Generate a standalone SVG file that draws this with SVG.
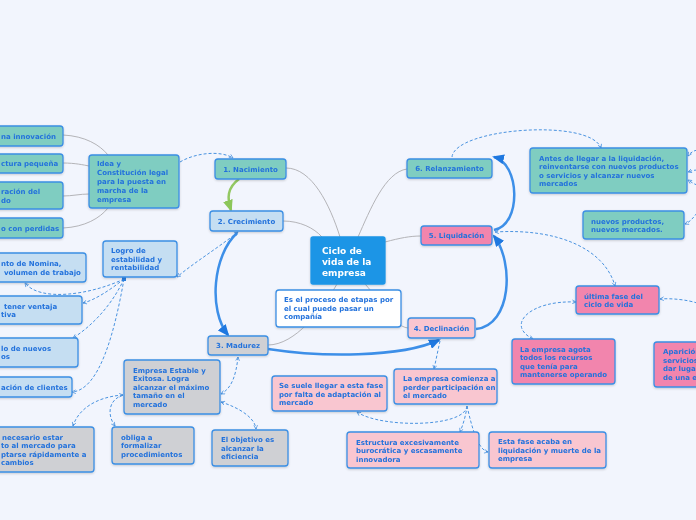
<svg xmlns="http://www.w3.org/2000/svg" width="696" height="520" viewBox="0 0 696 520">
<defs>
<style>
.bg{fill:#f2f5fd}
.n rect{stroke:#3b8ee4;stroke-width:1.3}
.teal{fill:#7fcdc1}
.lb{fill:#c5def2}
.gr{fill:#cfd0d4}
.pk{fill:#f9c6d0}
.dp{fill:#f285ad}
.wh{fill:#ffffff}
.ctr{fill:#1b95e6}
text{font-family:"DejaVu Sans","Liberation Sans",sans-serif;font-weight:bold;font-size:7px;fill:#2372dc}
.c{text-anchor:middle}
.big{font-size:9px;fill:#ffffff}
.g{fill:none;stroke:#b4b4b8;stroke-width:1}
.d{fill:none;stroke:#4a93e0;stroke-width:1;stroke-dasharray:3 2;marker-end:url(#oa)}
.d2{marker-start:url(#oa2)}
.s{fill:none;stroke:#3d8fe8;stroke-width:2.5;marker-end:url(#ta)}
.gs{fill:none;stroke:#93c862;stroke-width:2.5;marker-end:url(#tg)}
</style>
<filter id="sh" x="-10%" y="-10%" width="120%" height="130%"><feDropShadow dx="0" dy="1" stdDeviation="0.8" flood-color="#000" flood-opacity="0.18"/></filter>
<marker id="oa" viewBox="0 0 8 8" refX="7" refY="4" markerWidth="5" markerHeight="5" orient="auto" markerUnits="userSpaceOnUse"><path d="M1,1 L7,4 L1,7" fill="none" stroke="#4a93e0" stroke-width="1.2"/></marker>
<marker id="oa2" viewBox="0 0 8 8" refX="1" refY="4" markerWidth="5" markerHeight="5" orient="auto" markerUnits="userSpaceOnUse"><path d="M7,1 L1,4 L7,7" fill="none" stroke="#4a93e0" stroke-width="1.2"/></marker>
<marker id="ta" viewBox="0 0 12 10" refX="10" refY="5" markerWidth="12" markerHeight="10" orient="auto" markerUnits="userSpaceOnUse"><path d="M0,0 L12,5 L0,10 Z" fill="#1f78e0"/></marker>
<marker id="tg" viewBox="0 0 12 10" refX="10" refY="5" markerWidth="12" markerHeight="10" orient="auto" markerUnits="userSpaceOnUse"><path d="M0,0 L12,5 L0,10 Z" fill="#8cc65a"/></marker>
</defs>
<rect class="bg" x="0" y="0" width="696" height="520"/>

<g id="connectors">
<path class="g" d="M286,168 C312,168 330,205 340,237"/>
<path class="g" d="M283,221 C300,221 314,228 322,237"/>
<path class="g" d="M268,345 C295,345 322,310 337,284"/>
<path class="g" d="M365,284 C380,300 392,326 408,328"/>
<path class="g" d="M358,237 C370,210 385,172 407,169"/>
<path class="g" d="M385,242 C400,238 410,236 421,236"/>
<path class="g" d="M63,135 C85,136 100,145 108,155"/>
<path class="g" d="M63,163 C75,163 84,165 89,166"/>
<path class="g" d="M63,196 C72,196 80,194 89,194"/>
<path class="g" d="M63,228 C85,227 100,218 108,208"/>

<path class="d" d="M180,162 C195,153 220,150 233,158"/>
<path class="d d2" d="M238,232 C215,250 195,262 177,277"/>
<path class="d" d="M124,279 C90,295 40,302 25,283"/>
<path class="d" d="M124,279 C110,290 95,300 83,303"/>
<path class="d" d="M124,279 C112,305 92,326 73,338"/>
<path class="d" d="M124,279 C115,330 100,390 72,392"/>
<rect x="122" y="277" width="4" height="4" fill="#2b7fe0"/>
<path class="d d2" d="M238,357 C236,375 232,388 221,394"/>
<path class="d d2" d="M123,395 C95,397 78,410 73,426"/>
<path class="d" d="M123,395 C108,400 107,415 115,426"/>
<path class="d d2" d="M221,402 C240,408 255,418 256,429"/>
<path class="d" d="M440,341 C438,350 436,360 434,369"/>
<path class="d" d="M467,406 C465,428 380,428 357,412"/>
<path class="d" d="M467,406 C466,415 463,425 460,432"/>
<path class="d" d="M467,406 C472,428 478,450 488,452"/>
<path class="d d2" d="M495,232 C560,228 605,250 615,286"/>
<path class="d d2" d="M576,302 C530,300 505,325 533,339"/>
<path class="d" d="M697,303 C688,300 672,298 660,299"/>
<path class="d" d="M452,157 C455,128 590,118 601,148"/>
<path class="d" d="M697,150 C693,151 690,153 688,156"/>
<path class="d" d="M697,170 C694,170 691,171 688,172"/>
<path class="d" d="M697,185 C694,184 691,182 688,180"/>
<path class="d" d="M697,213 C693,218 690,222 685,224"/>

<path class="gs" d="M239,179 C227,188 227,198 231,210"/>
<path class="s" d="M237,233 C213,255 208,310 228,335"/>
<path class="s" d="M268,349 C320,357 400,358 439,340"/>
<path class="s" d="M476,329 C512,325 514,262 494,236"/>
<path class="s" d="M494,230 C522,225 520,163 494,157"/>
</g>

<g id="central" class="n" filter="url(#sh)"><rect class="ctr" x="311" y="237" width="74" height="47" rx="2" style="stroke:#1b95e6"/>
<text class="big" x="322" y="253.5">Ciclo de</text><text class="big" x="322" y="264.5">vida  de la</text><text class="big" x="322" y="275.5">empresa</text></g>

<g id="desc" class="n" filter="url(#sh)"><rect class="wh" x="276" y="290" width="125" height="37" rx="3"/>
<text x="284" y="302">Es el proceso de etapas por</text><text x="284" y="310.5">el cual puede pasar un</text><text x="284" y="319">compañía</text></g>

<g id="s1" class="n" filter="url(#sh)"><rect class="teal" x="215" y="159" width="71" height="20" rx="3"/><text class="c" x="250.5" y="171.5">1. Nacimiento</text></g>
<g id="s2" class="n" filter="url(#sh)"><rect class="lb" x="210" y="211" width="73" height="20" rx="3"/><text class="c" x="246.5" y="223.5">2. Crecimiento</text></g>
<g id="s3" class="n" filter="url(#sh)"><rect class="gr" x="208" y="336" width="60" height="19" rx="3"/><text class="c" x="238" y="348">3. Madurez</text></g>
<g id="s4" class="n" filter="url(#sh)"><rect class="pk" x="408" y="318" width="67" height="20" rx="3"/><text class="c" x="441.5" y="330.5">4. Declinación</text></g>
<g id="s5" class="n" filter="url(#sh)"><rect class="dp" x="421" y="226" width="71" height="19" rx="3"/><text class="c" x="456.5" y="238">5. Liquidación</text></g>
<g id="s6" class="n" filter="url(#sh)"><rect class="teal" x="407" y="159" width="85" height="19" rx="3"/><text class="c" x="449.5" y="171">6. Relanzamiento</text></g>

<g id="idea" class="n" filter="url(#sh)"><rect class="teal" x="89" y="155" width="90" height="53" rx="3"/>
<text x="97" y="166">Idea y</text><text x="97" y="175">Constitución legal</text><text x="97" y="184">para la puesta en</text><text x="97" y="193">marcha de la</text><text x="97" y="202">empresa</text></g>
<g id="i1" class="n" filter="url(#sh)"><rect class="teal" x="-40" y="126" width="103" height="20" rx="3"/><text x="1" y="138.5">na innovación</text></g>
<g id="i2" class="n" filter="url(#sh)"><rect class="teal" x="-40" y="154" width="103" height="19" rx="3"/><text x="1" y="166">ctura pequeña</text></g>
<g id="i3" class="n" filter="url(#sh)"><rect class="teal" x="-40" y="182" width="103" height="27" rx="3"/><text x="1" y="194">ración del</text><text x="1" y="203">do</text></g>
<g id="i4" class="n" filter="url(#sh)"><rect class="teal" x="-40" y="218" width="103" height="20" rx="3"/><text x="1" y="231">o con perdidas</text></g>

<g id="logro" class="n" filter="url(#sh)"><rect class="lb" x="103" y="241" width="74" height="36" rx="3"/>
<text x="111" y="253">Logro de</text><text x="111" y="261.5">estabilidad y</text><text x="111" y="270">rentabilidad</text></g>
<g id="l1" class="n" filter="url(#sh)"><rect class="lb" x="-40" y="253" width="126" height="29" rx="3"/><text x="1" y="266">nto de Nomina,</text><text x="4" y="275">volumen de trabajo</text></g>
<g id="l2" class="n" filter="url(#sh)"><rect class="lb" x="-40" y="296" width="122" height="28" rx="3"/><text x="4" y="308.5">tener ventaja</text><text x="1" y="317">tiva</text></g>
<g id="l3" class="n" filter="url(#sh)"><rect class="lb" x="-40" y="338" width="118" height="29" rx="3"/><text x="1" y="350.5">lo de nuevos</text><text x="1" y="359">os</text></g>
<g id="l4" class="n" filter="url(#sh)"><rect class="lb" x="-40" y="377" width="112" height="20" rx="3"/><text x="1" y="389.5">ación de clientes</text></g>

<g id="emp" class="n" filter="url(#sh)"><rect class="gr" x="124" y="360" width="96" height="54" rx="3"/>
<text x="133" y="372.5">Empresa Estable y</text><text x="133" y="381">Exitosa.  Logra</text><text x="133" y="389.5">alcanzar el máximo</text><text x="133" y="398">tamaño en el</text><text x="133" y="406.5">mercado</text></g>
<g id="m1" class="n" filter="url(#sh)"><rect class="gr" x="-40" y="427" width="134" height="45" rx="3"/><text x="2" y="439.5">necesario estar</text><text x="1" y="448">to al mercado para</text><text x="1" y="456.5">ptarse rápidamente a</text><text x="1" y="465">cambios</text></g>
<g id="m2" class="n" filter="url(#sh)"><rect class="gr" x="112" y="427" width="82" height="37" rx="3"/><text x="121" y="439.5">obliga a</text><text x="121" y="448">formalizar</text><text x="121" y="456.5">procedimientos</text></g>
<g id="m3" class="n" filter="url(#sh)"><rect class="gr" x="212" y="430" width="76" height="36" rx="3"/><text x="221" y="442">El objetivo es</text><text x="221" y="450.5">alcanzar la</text><text x="221" y="459">eficiencia</text></g>

<g id="d1" class="n" filter="url(#sh)"><rect class="pk" x="394" y="369" width="103" height="35" rx="3"/><text x="403" y="381">La empresa comienza a</text><text x="403" y="389.5">perder participación en</text><text x="403" y="398">el mercado</text></g>
<g id="d2" class="n" filter="url(#sh)"><rect class="pk" x="272" y="376" width="115" height="35" rx="3"/><text x="279" y="388">Se suele llegar a esta fase</text><text x="279" y="396.5">por falta de adaptación al</text><text x="279" y="405">mercado</text></g>
<g id="d3" class="n" filter="url(#sh)"><rect class="pk" x="347" y="432" width="132" height="36" rx="3"/><text x="356" y="444.5">Estructura excesivamente</text><text x="356" y="453">burocrática y escasamente</text><text x="356" y="461.5">innovadora</text></g>
<g id="d4" class="n" filter="url(#sh)"><rect class="pk" x="489" y="432" width="117" height="36" rx="3"/><text x="498" y="444">Esta fase acaba en</text><text x="498" y="452.5">liquidación y muerte de la</text><text x="498" y="461">empresa</text></g>

<g id="q1" class="n" filter="url(#sh)"><rect class="dp" x="576" y="286" width="83" height="28" rx="3"/><text x="584" y="298.5">última fase del</text><text x="584" y="307">ciclo de vida</text></g>
<g id="q2" class="n" filter="url(#sh)"><rect class="dp" x="512" y="339" width="103" height="45" rx="3"/><text x="520" y="351.5">La empresa agota</text><text x="520" y="360">todos los recursos</text><text x="520" y="368.5">que tenía para</text><text x="520" y="377">mantenerse operando</text></g>
<g id="q3" class="n" filter="url(#sh)"><rect class="dp" x="654" y="342" width="80" height="45" rx="3"/><text x="663" y="354">Aparición</text><text x="663" y="362.5">servicios</text><text x="663" y="371">dar lugar</text><text x="663" y="379.5">de una e</text></g>

<g id="r1" class="n" filter="url(#sh)"><rect class="teal" x="530" y="148" width="157" height="45" rx="3"/><text x="539" y="160.5">Antes de llegar a la liquidación,</text><text x="539" y="169">reinventarse con nuevos productos</text><text x="539" y="177.5">o servicios y alcanzar nuevos</text><text x="539" y="186">mercados</text></g>
<g id="r2" class="n" filter="url(#sh)"><rect class="teal" x="583" y="211" width="101" height="28" rx="3"/><text x="591" y="223.5">nuevos productos,</text><text x="591" y="232">nuevos mercados.</text></g>
</svg>
